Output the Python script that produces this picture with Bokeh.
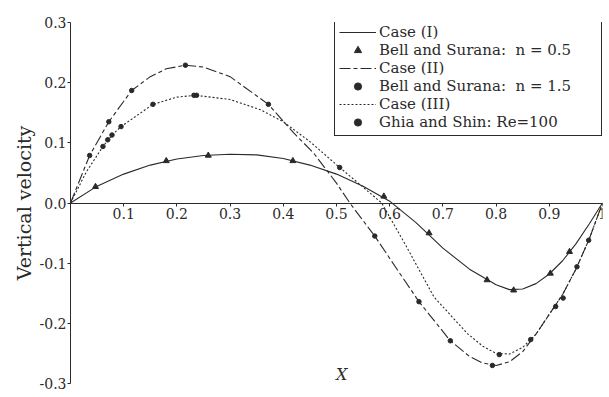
from bokeh.plotting import figure
from bokeh.embed import file_html
from bokeh.resources import INLINE
from bokeh.models import FixedTicker, Legend, LegendItem, Label

# ---- data ----
x1 = [0, 0.05, 0.1, 0.15, 0.2, 0.25, 0.3, 0.35, 0.4, 0.45, 0.5, 0.55, 0.6, 0.65, 0.7, 0.75, 0.8, 0.825, 0.85, 0.875, 0.9, 0.925, 0.95, 0.975, 1.0]
y1 = [0, 0.028, 0.048, 0.063, 0.073, 0.079, 0.081, 0.080, 0.074, 0.063, 0.048, 0.028, 0.003, -0.033, -0.075, -0.110, -0.136, -0.144, -0.143, -0.134, -0.118, -0.096, -0.068, -0.035, 0]

x2 = [0, 0.036, 0.072, 0.115, 0.15, 0.18, 0.216, 0.25, 0.3, 0.372, 0.42, 0.457, 0.5, 0.525, 0.572, 0.6, 0.655, 0.714, 0.75, 0.775, 0.8, 0.825, 0.85, 0.875, 0.9, 0.925, 0.95, 0.975, 1.0]
y2 = [0, 0.079, 0.135, 0.187, 0.21, 0.223, 0.229, 0.226, 0.21, 0.164, 0.116, 0.083, 0.033, 0.0, -0.055, -0.092, -0.164, -0.229, -0.255, -0.266, -0.27, -0.264, -0.247, -0.218, -0.185, -0.152, -0.11, -0.06, 0]

x3 = [0, 0.03, 0.061, 0.078, 0.095, 0.155, 0.2, 0.235, 0.3, 0.357, 0.4, 0.45, 0.506, 0.545, 0.585, 0.63, 0.683, 0.746, 0.775, 0.8, 0.825, 0.85, 0.875, 0.9, 0.925, 0.95, 0.975, 1.0]
y3 = [0, 0.052, 0.094, 0.113, 0.127, 0.164, 0.176, 0.179, 0.172, 0.155, 0.135, 0.102, 0.059, 0.03, 0.0, -0.07, -0.156, -0.217, -0.238, -0.25, -0.251, -0.24, -0.218, -0.185, -0.152, -0.11, -0.06, 0]

bell05_x = [0.047, 0.18, 0.259, 0.418, 0.589, 0.674, 0.783, 0.833, 0.902, 0.938]
bell05_y = [0.027, 0.07, 0.079, 0.07, 0.011, -0.05, -0.128, -0.145, -0.117, -0.081]

bell15_x = [0.036, 0.072, 0.115, 0.216, 0.372, 0.572, 0.655, 0.714, 0.793, 0.865, 0.912, 0.926, 0.952, 0.974]
bell15_y = [0.079, 0.135, 0.187, 0.229, 0.164, -0.055, -0.164, -0.229, -0.27, -0.227, -0.172, -0.158, -0.106, -0.062]

ghia_x = [0.061, 0.07, 0.078, 0.095, 0.155, 0.232, 0.237, 0.506, 0.806]
ghia_y = [0.094, 0.105, 0.113, 0.127, 0.164, 0.179, 0.179, 0.059, -0.252]

x_ticks = [0.1, 0.2, 0.3, 0.4, 0.5, 0.6, 0.7, 0.8, 0.9, 1.0]
x_tick_labels = ["0.1", "0.2", "0.3", "0.4", "0.5", "0.6", "0.7", "0.8", "0.9", "1"]
y_ticks = [-0.3, -0.2, -0.1, 0.0, 0.1, 0.2, 0.3]
y_tick_labels = ["-0.3", "-0.2", "-0.1", "0.0", "0.1", "0.2", "0.3"]

FONT = "DejaVu Serif"
INK = "#2a2a2a"

p = figure(width=609, height=397, output_backend="svg", toolbar_location=None,
           x_range=(0, 1), y_range=(-0.3, 0.3))
p.min_border_left = 70
p.min_border_right = 7
p.min_border_top = 22
p.min_border_bottom = 14
p.outline_line_color = None
p.grid.visible = False
p.background_fill_color = "white"

# axes
p.xaxis.fixed_location = 0
p.xaxis.ticker = FixedTicker(ticks=x_ticks)
p.xaxis.major_label_overrides = {t: l for t, l in zip(x_ticks, x_tick_labels)}
p.yaxis.ticker = FixedTicker(ticks=y_ticks)
p.yaxis.major_label_overrides = {t: l for t, l in zip(y_ticks, y_tick_labels)}
for ax in (p.xaxis, p.yaxis):
    ax.axis_line_color = INK
    ax.major_tick_line_color = INK
    ax.minor_tick_line_color = None
    ax.major_tick_in = 0
    ax.major_tick_out = 3
    ax.major_label_text_font = FONT
    ax.major_label_text_font_size = "14px"
    ax.major_label_text_color = INK
p.xaxis.major_label_standoff = 2
p.yaxis.major_label_standoff = 1
p.yaxis.axis_label = "Vertical velocity"
p.yaxis.axis_label_text_font = FONT
p.yaxis.axis_label_text_font_style = "normal"
p.yaxis.axis_label_text_font_size = "19px"
p.yaxis.axis_label_text_color = INK
p.yaxis.axis_label_standoff = 2

p.add_layout(Label(x=0.51, y=-0.3, text="X", text_font=FONT, text_font_style="italic",
                   text_font_size="16px", text_color=INK, text_align="center",
                   text_baseline="bottom", y_offset=0))

r1 = p.line(x1, y1, line_color=INK, line_width=1.1)
r2 = p.line(x2, y2, line_color=INK, line_width=1.1, line_dash="11 3 4 3")
r3 = p.line(x3, y3, line_color=INK, line_width=1.1, line_dash="2 2")
m1 = p.scatter(bell05_x, bell05_y, marker="triangle", size=6, fill_color=INK, line_color=INK)
m2 = p.scatter(bell15_x, bell15_y, marker="circle", size=4.5, fill_color=INK, line_color=INK)
m3 = p.scatter(ghia_x, ghia_y, marker="circle", size=4.5, fill_color=INK, line_color=INK)

legend = Legend(items=[
    LegendItem(label="Case (I)", renderers=[r1]),
    LegendItem(label="Bell and Surana:  n = 0.5", renderers=[m1]),
    LegendItem(label="Case (II)", renderers=[r2]),
    LegendItem(label="Bell and Surana:  n = 1.5", renderers=[m2]),
    LegendItem(label="Case (III)", renderers=[r3]),
    LegendItem(label="Ghia and Shin: Re=100", renderers=[m3]),
], location=(264, 247))
legend.label_text_font = FONT
legend.label_text_font_size = "15px"
legend.label_text_color = INK
legend.label_standoff = 3
legend.label_width = 218
legend.glyph_width = 37
legend.glyph_height = 18
legend.label_height = 18
legend.spacing = 0
legend.padding = 4
legend.margin = 0
legend.border_line_color = INK
legend.border_line_width = 1
legend.border_line_alpha = 1
legend.background_fill_color = "white"
legend.background_fill_alpha = 1
p.add_layout(legend)

open("out.html", "w").write(file_html(p, INLINE))
